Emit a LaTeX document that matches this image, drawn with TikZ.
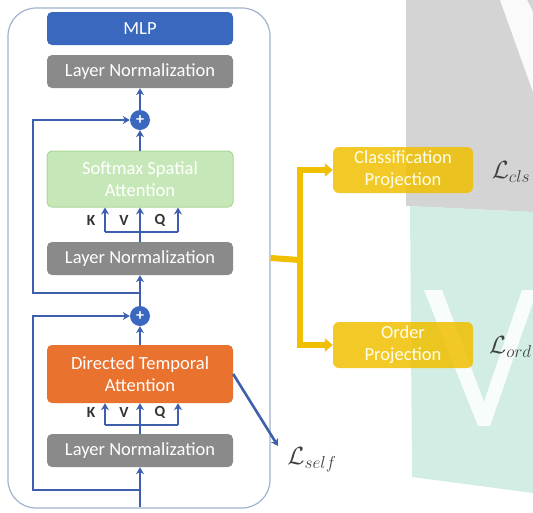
\documentclass[tikz,border=0pt]{standalone}
\usepackage{fontspec}
\setmainfont{Carlito}
\usetikzlibrary{shapes.geometric, arrows.meta, calc}

\definecolor{mainblue}{RGB}{58,104,190}
\definecolor{lineblue}{RGB}{62,96,172}
\definecolor{normgray}{RGB}{138,138,138}
\definecolor{softgreen}{RGB}{198,232,184}
\definecolor{softedge}{RGB}{170,214,150}
\definecolor{temporange}{RGB}{232,114,46}
\definecolor{projyellow}{RGB}{240,192,0}
\definecolor{framecol}{RGB}{160,178,206}
\definecolor{bggray}{RGB}{212,212,212}
\definecolor{bgteal}{RGB}{210,238,228}

\tikzset{
  box/.style={rounded corners=5pt, minimum width=186pt, text=white, align=center,
    font=\fontsize{18.5}{22}\selectfont},
  normbox/.style={box, fill=normgray, minimum height=33pt},
  plusnode/.style={circle, fill=mainblue, minimum size=20pt, inner sep=0pt, text=white,
    font=\bfseries\fontsize{16}{16}\selectfont},
  kvq/.style={text=black!80, font=\bfseries\fontsize{15.5}{16}\selectfont, inner sep=0pt},
  flow/.style={draw=lineblue, line width=2.6pt, -{Stealth[length=7pt,width=8pt]}},
  wire/.style={draw=lineblue, line width=2.6pt},
  ybar/.style={draw=projyellow, line width=6pt},
  yflow/.style={ybar, -{Triangle[length=8pt,width=13pt]}},
  proj/.style={rounded corners=6pt, fill=projyellow, fill opacity=0.85, text opacity=1,
    text=white!92!yellow, minimum width=140pt, minimum height=46pt, align=center,
    font=\fontsize{18.5}{22}\selectfont},
  loss/.style={font=\fontsize{23}{25}\selectfont, text=black!75, inner sep=1pt}
}

\begin{document}
\begin{tikzpicture}[x=1pt,y=-1pt]
  \useasboundingbox (0,0) rectangle (533,512);

  % slide background on the right
  \fill[bggray] (406,0) -- (533,0) -- (533,212) -- (406,206) -- cycle;
  \fill[white, opacity=0.9] (500,0) -- (527,0) -- (533,12) -- (533,92) -- cycle;
  \fill[bgteal] (410,206) -- (533,212) -- (533,493) -- (412,477) -- cycle;
  \fill[white, opacity=0.85] (424,290) -- (442,290) -- (484,402) -- (522,290) -- (533,290)
    -- (533,302) -- (490,426) -- (478,426) -- cycle;

  % encoder block
  \node[draw=framecol, line width=1.2pt, rounded corners=28pt,
    minimum width=262pt, minimum height=500pt] (block) at (139,258) {};

  \node[box, fill=mainblue, minimum height=33pt] (mlp) at (140,28.5) {MLP};
  \node[normbox] (lnA) at (140,71.5) {Layer Normalization};
  \node[plusnode] (plusA) at (140,120) {+};
  \node[box, fill=softgreen, draw=softedge, line width=1pt, minimum height=56pt] (ssa)
    at (140,179) {Softmax Spatial\\Attention};
  \node[kvq] (kA) at (91,220) {K};
  \node[kvq] (vA) at (124,220) {V};
  \node[kvq] (qA) at (160,220) {Q};
  \node[normbox] (lnB) at (140,258.5) {Layer Normalization};

  \node[plusnode] (plusB) at (140,316) {+};
  \node[box, fill=temporange, minimum height=58pt] (dta) at (140,374)
    {Directed Temporal\\Attention};
  \node[kvq] (kB) at (91,412) {K};
  \node[kvq] (vB) at (124,412) {V};
  \node[kvq] (qB) at (160,412) {Q};
  \node[normbox] (lnC) at (140,450.5) {Layer Normalization};

  % projection heads
  \node[proj] (cls) at (403,170) {Classification\\Projection};
  \node[proj] (ord) at (403,345) {Order\\Projection};
  \node[loss] (lcls) at (511,172) {$\mathcal{L}_{cls}$};
  \node[loss, anchor=east] (lord) at (533,347) {$\mathcal{L}_{ord}$};
  \node[loss] (lself) at (312,460) {$\mathcal{L}_{self}$};

  % helper points
  \coordinate (forkA) at (140,232);
  \coordinate (kinA) at (105,232);
  \coordinate (qinA) at (178,232);
  \coordinate (forkB) at (140,425);
  \coordinate (kinB) at (105,425);
  \coordinate (qinB) at (178,425);
  \coordinate (splitA) at (140,293);
  \coordinate (leftA) at (33,293);
  \coordinate (input) at (140,507);
  \coordinate (splitB) at (140,490);
  \coordinate (leftB) at (33,490);
  \coordinate (selftip) at (278,446);
  \coordinate (branch) at (300,260);

  % upper layer
  \draw[flow] (plusA.north) -- (lnA.south);
  \draw[flow] (ssa.north) -- (plusA.south);
  \draw[wire] (lnB.north) -- (forkA);
  \draw[wire] (kinA) -- (qinA);
  \draw[flow] (kinA) -- (kinA |- ssa.south);
  \draw[flow] (forkA) -- (ssa.south);
  \draw[flow] (qinA) -- (qinA |- ssa.south);
  \draw[flow] (splitA) -- (leftA) |- (plusA.west);

  % lower layer
  \draw[flow] (plusB.north) -- (lnB.south);
  \draw[flow] (dta.north) -- (plusB.south);
  \draw[wire] (lnC.north) -- (forkB);
  \draw[wire] (kinB) -- (qinB);
  \draw[flow] (kinB) -- (kinB |- dta.south);
  \draw[flow] (forkB) -- (dta.south);
  \draw[flow] (qinB) -- (qinB |- dta.south);
  \draw[flow] (input) -- (lnC.south);
  \draw[flow] (splitB) -- (leftB) |- (plusB.west);
  \draw[flow] (dta.east) -- (selftip);

  % outputs
  \draw[ybar] (block.east) -- (branch);
  \draw[yflow] (branch) |- (cls.west);
  \draw[yflow] (branch) |- (ord.west);
\end{tikzpicture}
\end{document}
